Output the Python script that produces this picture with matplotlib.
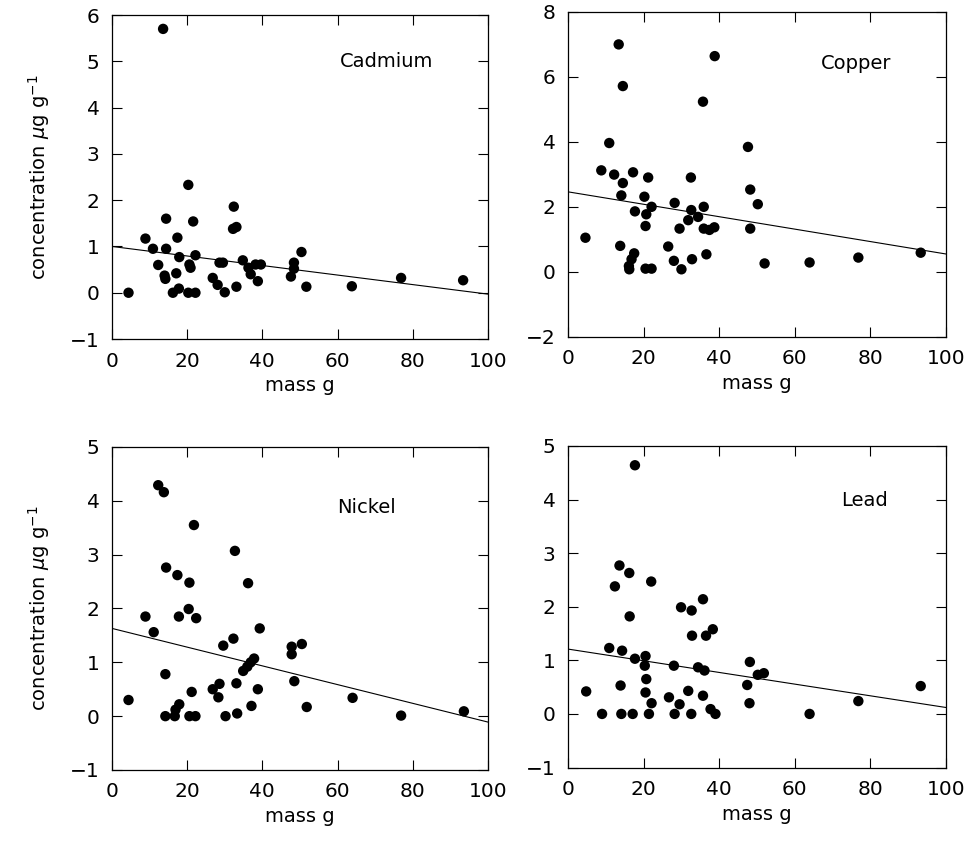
import matplotlib.pyplot as plt
import numpy as np

plt.rcParams['font.family'] = ['DejaVu Sans']
plt.rcParams['font.size'] = 14
plt.rcParams['mathtext.fontset'] = 'dejavusans'

# Cadmium
cd_mass = [13.6, 20.3, 32.4, 14.4, 21.6, 32.2, 33.1, 8.9, 17.4, 10.9, 14.4, 17.9, 22.2,
           12.3, 20.6, 20.9, 28.6, 29.5, 34.8, 36.3, 38.2, 39.6, 36.9, 38.8, 14.0, 14.2,
           17.1, 26.8, 28.1, 30.0, 33.1, 16.2, 17.8, 20.3, 22.2, 4.4, 47.6, 48.4, 48.4,
           50.4, 51.7, 63.8, 76.9, 93.4]
cd_conc = [5.70, 2.33, 1.86, 1.60, 1.54, 1.38, 1.42, 1.17, 1.19, 0.95, 0.95, 0.77, 0.81,
           0.60, 0.61, 0.54, 0.65, 0.65, 0.70, 0.54, 0.61, 0.61, 0.40, 0.25, 0.37, 0.30,
           0.42, 0.32, 0.17, 0.01, 0.13, 0.00, 0.09, 0.00, 0.00, 0.00, 0.35, 0.52, 0.65,
           0.88, 0.13, 0.14, 0.32, 0.27]
cd_fit = (1.00, -0.0103)

# Copper
cu_mass = [13.4, 38.8, 14.5, 35.7, 10.9, 47.6, 8.8, 12.2, 17.2, 21.2, 32.5, 14.5, 48.2,
           14.1, 20.2, 50.2, 28.2, 22.1, 17.7, 20.7, 32.6, 35.9, 31.8, 34.4, 20.5, 29.5,
           35.9, 37.4, 38.7, 48.2, 4.6, 13.8, 26.5, 36.6, 17.5, 16.8, 16.1, 16.2, 20.5,
           22.1, 28.0, 30.0, 32.8, 52.0, 63.9, 76.8, 93.3]
cu_conc = [6.99, 6.63, 5.71, 5.23, 3.96, 3.84, 3.12, 2.99, 3.06, 2.90, 2.90, 2.73, 2.53,
           2.35, 2.31, 2.08, 2.12, 2.00, 1.86, 1.77, 1.90, 2.00, 1.59, 1.69, 1.41, 1.33,
           1.33, 1.29, 1.37, 1.33, 1.05, 0.80, 0.78, 0.54, 0.57, 0.39, 0.18, 0.08, 0.10,
           0.10, 0.34, 0.08, 0.39, 0.26, 0.29, 0.44, 0.59]
cu_fit = (2.46, -0.0191)

# Nickel
ni_mass = [12.3, 13.8, 21.8, 32.7, 14.4, 17.4, 20.6, 36.2, 20.4, 8.9, 17.8, 22.4, 39.3,
           11.1, 29.6, 32.3, 47.8, 47.8, 50.5, 37.8, 36.9, 36.0, 34.9, 14.2, 48.5, 28.6,
           26.8, 28.3, 33.1, 38.8, 21.2, 4.4, 64.0, 17.9, 16.9, 14.2, 16.7, 20.6, 22.2,
           30.2, 33.3, 37.1, 51.8, 76.9, 93.6]
ni_conc = [4.29, 4.16, 3.55, 3.07, 2.76, 2.62, 2.48, 2.47, 1.99, 1.85, 1.85, 1.82, 1.63,
           1.56, 1.31, 1.44, 1.29, 1.15, 1.34, 1.07, 1.00, 0.92, 0.84, 0.78, 0.65, 0.60,
           0.50, 0.35, 0.61, 0.50, 0.45, 0.30, 0.34, 0.22, 0.12, 0.00, 0.00, 0.00, 0.00,
           0.00, 0.05, 0.19, 0.17, 0.01, 0.09]
ni_fit = (1.63, -0.0174)

# Lead
pb_mass = [17.7, 13.6, 16.2, 12.4, 22.0, 35.7, 29.9, 32.7, 16.3, 38.3, 36.5, 32.8, 10.9,
           14.3, 17.7, 20.5, 20.3, 28.0, 34.4, 36.1, 48.1, 50.2, 51.8, 20.7, 4.8, 13.9,
           20.5, 26.7, 31.8, 35.7, 47.4, 48.0, 22.1, 29.5, 9.0, 14.1, 17.1, 21.4, 28.2,
           32.6, 37.7, 39.0, 63.9, 76.8, 93.3]
pb_conc = [4.64, 2.77, 2.63, 2.38, 2.47, 2.14, 1.99, 1.93, 1.82, 1.58, 1.46, 1.46, 1.23,
           1.18, 1.03, 1.08, 0.90, 0.90, 0.87, 0.81, 0.97, 0.73, 0.76, 0.65, 0.42, 0.53,
           0.40, 0.31, 0.43, 0.34, 0.54, 0.20, 0.20, 0.18, 0.00, 0.00, 0.00, 0.00, 0.00,
           0.00, 0.09, 0.00, 0.00, 0.24, 0.52]
pb_fit = (1.21, -0.0109)

panels = [
    ("Cadmium", cd_mass, cd_conc, cd_fit, (-1, 6), 1, (73, 5.0),
     [0.1152, 0.6002, 0.3868, 0.3821]),
    ("Copper", cu_mass, cu_conc, cu_fit, (-2, 8), 2, (76.2, 6.41),
     [0.5844, 0.6026, 0.3889, 0.3838]),
    ("Nickel", ni_mass, ni_conc, ni_fit, (-1, 5), 1, (67.8, 3.87),
     [0.1152, 0.0920, 0.3868, 0.3809]),
    ("Lead", pb_mass, pb_conc, pb_fit, (-1, 5), 1, (78.5, 3.98),
     [0.5844, 0.0949, 0.3889, 0.3792]),
]

fig = plt.figure(figsize=(9.72, 8.48), dpi=100)

for i, (name, mass, conc, fit, ylim, ystep, lab, rect) in enumerate(panels):
    ax = fig.add_axes(rect)
    ax.scatter(mass, conc, s=56, color='black', edgecolors='none', zorder=3)
    xs = np.array([0, 100])
    ax.plot(xs, fit[0] + fit[1] * xs, color='black', linewidth=0.8)
    ax.set_xlim(0, 100)
    ax.set_ylim(*ylim)
    ax.set_xticks(np.arange(0, 101, 20))
    ax.set_yticks(np.arange(ylim[0], ylim[1] + 0.1, ystep))
    ax.tick_params(direction='in', length=7, width=0.8, top=True, right=True,
                   labelsize=14.5, pad=9)
    for sp in ax.spines.values():
        sp.set_linewidth(0.9)
    ax.text(lab[0], lab[1], name, ha='center', va='center', fontsize=14)
    ax.set_xlabel("mass g", fontsize=14, labelpad=4)
    if i % 2 == 0:
        ax.set_ylabel(r"concentration $\mu$g g$^{-1}$", fontsize=14, labelpad=13)

fig.savefig("out.png", dpi=100)
